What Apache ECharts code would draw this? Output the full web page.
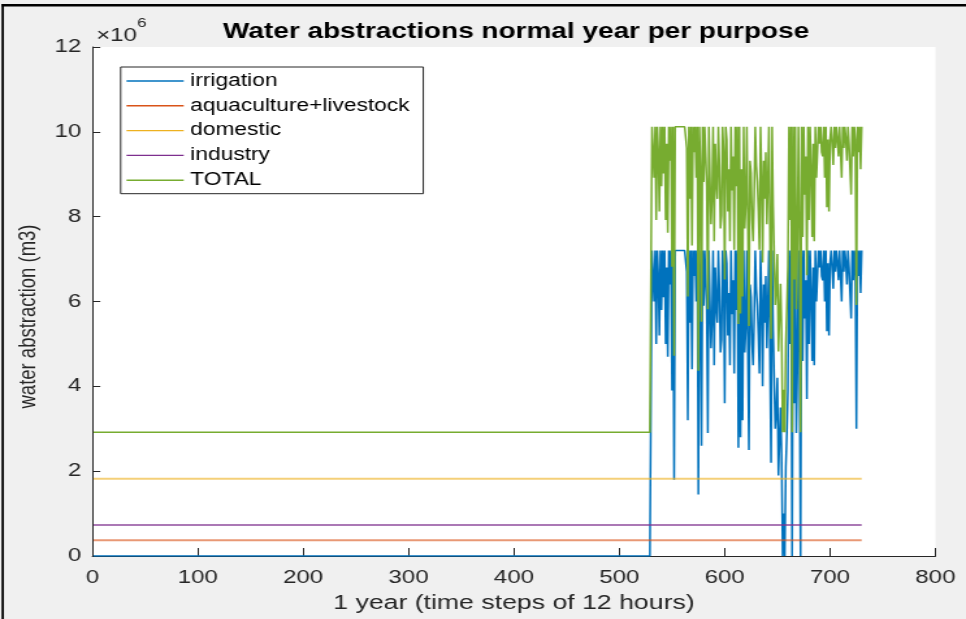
<!DOCTYPE html>
<html>
<head>
<meta charset="utf-8">
<script src="https://cdn.jsdelivr.net/npm/echarts@6/dist/echarts.min.js"></script>
<style>
  html, body { margin: 0; padding: 0; background: #f0f0f0; overflow: hidden; }
  /* The figure is laid out at 743 px and widened to the 966 px page. */
  #fig { position: absolute; left: 0; top: 0; width: 743px; height: 619px;
         transform: scaleX(1.3001); transform-origin: 0 0; }
</style>
</head>
<body>
<div id="fig"></div>
<script>
// Water abstractions over one year, 730 half-day time steps, in 10^6 m3.
const seriesNames = ['irrigation', 'aquaculture+livestock', 'domestic', 'industry', 'TOTAL'];
const stepCount = 730;
const irrigationStart = 531;           // first step with irrigation
// Irrigation for steps 531..730
const irrigationActive = [
  7.2, 7.2, 6.0, 7.2, 5.0, 7.2, 6.6, 5.2, 7.2, 5.8,
  7.2, 6.1, 7.2, 5.0, 6.8, 4.7, 7.2, 6.4, 7.2, 3.9,
  7.2, 1.8, 7.2, 7.2, 7.2, 7.2, 7.2, 7.2, 7.2, 7.2,
  7.2, 7.2, 7.2, 6.7, 3.2, 7.2, 5.5, 7.2, 4.4, 7.2,
  6.6, 7.2, 6.0, 7.2, 1.45, 7.2, 6.2, 2.6, 7.2, 5.9,
  7.2, 6.5, 5.8, 2.9, 7.2, 6.0, 4.9, 5.6, 7.2, 4.5,
  6.8, 5.9, 5.5, 7.2, 6.3, 4.8, 5.1, 7.2, 6.6, 3.6,
  7.2, 6.9, 5.2, 6.2, 4.5, 7.2, 5.7, 6.5, 4.3, 7.2,
  5.8, 7.2, 2.55, 7.2, 2.8, 6.2, 3.2, 7.2, 4.8, 5.4,
  7.2, 4.9, 2.5, 6.4, 6.1, 5.0, 4.5, 5.6, 7.2, 6.3,
  5.9, 5.2, 4.3, 7.2, 6.0, 4.0, 6.4, 5.5, 6.6, 4.9,
  5.9, 7.2, 4.7, 2.2, 7.2, 5.3, 4.1, 3.0, 3.4, 4.2,
  1.9, 2.7, 3.5, 2.4, 0, 1.0, 0, 2.1, 2.9, 3.9,
  7.2, 5.0, 7.2, 0, 7.2, 3.6, 7.2, 2.9, 4.5, 7.2,
  4.8, 0, 7.2, 4.6, 7.2, 5.6, 6.5, 3.7, 7.2, 5.0,
  7.2, 6.2, 4.6, 6.8, 4.5, 7.2, 6.0, 6.6, 7.2, 6.8,
  7.2, 6.6, 6.5, 7.2, 6.0, 7.2, 5.3, 6.9, 5.2, 6.9,
  7.2, 6.8, 6.3, 7.2, 6.7, 7.2, 6.9, 6.5, 7.2, 6.6,
  6.0, 7.2, 6.7, 7.2, 6.9, 6.4, 7.2, 6.8, 6.8, 5.6,
  7.2, 6.5, 7.2, 6.9, 3.0, 7.2, 6.6, 7.2, 6.2, 7.2
];
// Constant yearly demands
const aquacultureLevel = 0.37;
const domesticLevel = 1.82;
const industryLevel = 0.73;
const xTicks = [0, 100, 200, 300, 400, 500, 600, 700, 800];
const yTicks = [0, 2, 4, 6, 8, 10, 12];
const colors = ['#0072BD', '#D95319', '#EDB120', '#7E2F8E', '#77AC30'];

const steps = Array.from({ length: stepCount }, (_, i) => i + 1);
const irrigation = steps.map(t => t < irrigationStart ? 0 : irrigationActive[t - irrigationStart]);
const aquaculture = steps.map(() => aquacultureLevel);
const domestic = steps.map(() => domesticLevel);
const industry = steps.map(() => industryLevel);
const total = steps.map((t, i) => irrigation[i] + aquaculture[i] + domestic[i] + industry[i]);
const values = [irrigation, aquaculture, domestic, industry, total];
// flat demand lines are drawn a little softer than the fluctuating ones
const lineOpacity = [1, 0.6, 0.6, 0.65, 1];
const lineWidth = [1.5, 2, 2, 2, 1.5];

const font = '"Liberation Sans", Arial, Helvetica, sans-serif';
const ink = '#262626';

const chart = echarts.init(document.getElementById('fig'), null, { renderer: 'canvas', width: 743, height: 619 });
chart.setOption({
  animation: false,
  backgroundColor: '#f0f0f0',
  color: colors,
  title: {
    text: 'Water abstractions normal year per purpose',
    left: 397, top: 21, textAlign: 'center', padding: 0,
    textStyle: { fontFamily: font, fontSize: 21.5, fontWeight: 'bold', color: '#000' }
  },
  grid: { left: 71.1, right: 23.5, top: 47, bottom: 53, show: true, backgroundColor: '#ffffff', borderWidth: 0 },
  legend: {
    orient: 'vertical', left: 92.8, top: 67,
    data: seriesNames,
    icon: 'rect',
    itemWidth: 44, itemHeight: 1.4, itemGap: 4.8,
    padding: [4, 10.5, 3.5, 4.5],
    backgroundColor: '#ffffff', borderColor: ink, borderWidth: 1, borderRadius: 0,
    textStyle: { fontFamily: font, fontSize: 17.5, color: '#000', lineHeight: 20 }
  },
  xAxis: {
    type: 'value', min: xTicks[0], max: xTicks[xTicks.length - 1], interval: 100,
    name: '1 year (time steps of 12 hours)', nameLocation: 'middle', nameGap: 37,
    nameTextStyle: { fontFamily: font, fontSize: 20.5, color: ink },
    axisLine: { lineStyle: { color: ink, width: 1 } },
    axisTick: { inside: true, length: 8, lineStyle: { color: ink } },
    axisLabel: { fontFamily: font, fontSize: 18.5, color: ink, margin: 12 },
    splitLine: { show: false }
  },
  yAxis: {
    type: 'value', min: yTicks[0], max: yTicks[yTicks.length - 1], interval: 2,
    name: 'water abstraction (m3)', nameLocation: 'middle', nameGap: 29, nameRotate: 90,
    nameTextStyle: { fontFamily: font, fontSize: 18.5, color: ink, padding: [0, 30, 0, 0] },
    axisLine: { show: true, lineStyle: { color: ink, width: 1 } },
    axisTick: { show: true, inside: true, length: 6, lineStyle: { color: ink } },
    axisLabel: { fontFamily: font, fontSize: 18.5, color: ink, margin: 8.5 },
    splitLine: { show: false }
  },
  graphic: [
    { type: 'rect', shape: { x: 1.2, y: 4, width: 1.8, height: 615 }, style: { fill: '#000' }, silent: true },
    { type: 'rect', shape: { x: 1.2, y: 4, width: 742, height: 2.5 }, style: { fill: '#000' }, silent: true },
    { type: 'text', left: 74, top: 26, style: { text: '×10', font: '18.5px ' + font, fill: ink }, silent: true },
    { type: 'text', left: 105.5, top: 17, style: { text: '6', font: '13px ' + font, fill: ink }, silent: true }
  ],
  series: seriesNames.map((name, k) => ({
    name: name,
    type: 'line',
    symbol: 'none',
    showSymbol: false,
    lineStyle: { width: lineWidth[k], color: colors[k], opacity: lineOpacity[k] },
    itemStyle: { color: colors[k] },
    data: steps.map((t, i) => [t, values[k][i]])
  }))
});
</script>
</body>
</html>
